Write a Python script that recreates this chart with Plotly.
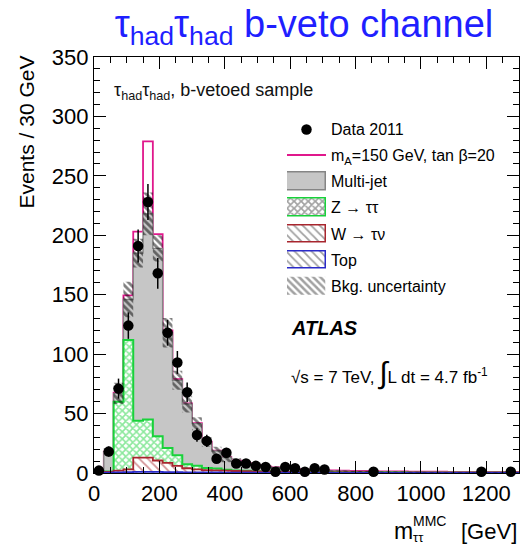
import numpy as np
import plotly.graph_objects as go

# ---------------- data ----------------
bin_width = 30
bin_edges = np.arange(0, 1320 + 1, bin_width)          # 44 bins, 0..1320 GeV

data_2011 = [2, 18, 71, 124, 191, 228, 168, 118, 93, 68, 32, 27, 12, 17, 8, 8, 6, 5,
             1, 5, 4, 1, 4, 3, 0, 0, 0, 0, 1, 0, 0, 0, 0, 0, 0, 0, 0, 0, 0, 1, 0, 0, 1, 0]

multijet = [0.6, 16.8, 7, 34, 141, 173, 158, 97, 63, 50.7, 35.5, 21.8, 14.8, 10.2, 7.8, 6.2,
            5.0, 4.2, 3.4, 2.8, 2.3, 1.9, 1.6, 1.4, 1.1, 1.0, 0.8, 0.8, 0.7, 0.6, 0.6, 0.5,
            0.4, 0.4, 0.4, 0.4, 0.3, 0.3, 0.3, 0.2, 0.3, 0.3, 0.2, 0.2]
z_tautau = [0.1, 0.2, 58, 109, 31, 32, 20.5, 12.5, 9, 3.3, 3, 1.7, 1.5, 0.8, 0.5, 0.3, 0.2, 0.2,
            0.1, 0.1, 0.1, 0.1, 0.1, 0.1, 0.1, 0.1, 0.1, 0.1, 0.1, 0.1, 0.1, 0.1, 0.1, 0.1,
            0.1, 0.1, 0.1, 0.1, 0.1, 0.1, 0.1, 0.1, 0.1, 0.1]
w_taunu = [0.2, 0.7, 1.4, 2.2, 12, 12, 9.6, 7.7, 5.3, 3.4, 2.5, 2.1, 1.8, 1.7, 1.4, 1.2, 1.1,
           0.9, 0.8, 0.7, 0.6, 0.5, 0.5, 0.4, 0.4, 0.3, 0.3, 0.3, 0.2, 0.2, 0.2, 0.2,
           0.1, 0.1, 0.1, 0.1, 0.1, 0.1, 0.1, 0.1, 0.1, 0.1, 0.1, 0.1]
top_quark = [0.1, 0.3, 0.6, 0.8, 1.0, 1.0, 0.9, 0.8, 0.7, 0.6, 0.5, 0.4, 0.4, 0.3, 0.3, 0.3,
             0.2, 0.2, 0.2, 0.2, 0.1, 0.1, 0.1, 0.1, 0.1, 0.1, 0.1, 0.1, 0.1, 0.1, 0.1, 0.1,
             0.1, 0.1, 0.1, 0.1, 0.1, 0.1, 0.1, 0.1, 0.1, 0.1, 0.1, 0.1]
signal_mA150 = [0, 0, 0.5, 3.5, 18, 61, 12, 2, 1, 0.5, 0.4, 0.3, 0.3, 0.3, 0.3, 0.3, 0.3, 0.3,
                0.3, 0.3, 0.3, 0.3, 0.3, 0.3, 0.4, 0.4, 0.4, 0.4, 0.4, 0.4, 0.4, 0.4, 0.4,
                0.4, 0.4, 0.4, 0.4, 0.4, 0.4, 0.4, 0.4, 0.4, 0.4, 0.4]
bkg_uncertainty = [0.5, 3, 9, 15, 12, 18, 11, 12.5, 8, 7, 5.5, 4, 3.5, 4, 2.5, 2, 1.8, 1.5,
                   1.2, 1.0, 0.9, 0.8, 0.7, 0.6, 0.5, 0.5, 0.4, 0.4, 0.4, 0.3, 0.3, 0.3, 0.3,
                   0.3, 0.2, 0.2, 0.2, 0.2, 0.2, 0.2, 0.2, 0.2, 0.2, 0.2]

x_ticks = [0, 200, 400, 600, 800, 1000, 1200]
y_ticks = [0, 50, 100, 150, 200, 250, 300, 350]

legend_labels = ["Data 2011", "m<sub>A</sub>=150 GeV, tan β=20", "Multi-jet",
                 "Z → ττ", "W → τν", "Top", "Bkg. uncertainty"]

# ---------------- styling ----------------
FONT = "Liberation Sans, Arial, sans-serif"
GRAY_FILL, GRAY_LINE = "#c6c6c6", "#858585"
GREEN, RED, BLUE, PINK = "#18d23a", "#a8262e", "#2a2ac8", "#e0188c"

# ---------------- stacking ----------------
top_a = np.array(top_quark)
w_a = top_a + np.array(w_taunu)
z_a = w_a + np.array(z_tautau)
tot_a = z_a + np.array(multijet)
sig_a = tot_a + np.array(signal_mA150)
unc_a = np.array(bkg_uncertainty)
data_a = np.array(data_2011, dtype=float)
centers = bin_edges[:-1] + bin_width / 2


def step(v):
    return np.append(v, v[-1])


fig = go.Figure()

# signal + background line (drawn first: only visible where it rises above the stack)
fig.add_trace(go.Scatter(x=bin_edges, y=step(sig_a), mode="lines", line_shape="hv",
                         line=dict(color=PINK, width=1.8), showlegend=False, hoverinfo="skip"))


def hist_fill(vals, line_color, lw, fillcolor, pattern=None):
    kw = dict(x=bin_edges, y=step(vals), mode="lines", line_shape="hv",
              line=dict(color=line_color, width=lw), fill="tozeroy",
              fillcolor=fillcolor, showlegend=False, hoverinfo="skip")
    if pattern:
        kw["fillpattern"] = pattern
    fig.add_trace(go.Scatter(**kw))


hist_fill(tot_a, GRAY_LINE, 1.4, GRAY_FILL)
hist_fill(z_a, GREEN, 2, "white",
          dict(shape="x", fgcolor=GREEN, bgcolor="white", size=5, solidity=0.55))
hist_fill(w_a, RED, 1.8, "white",
          dict(shape="\\", fgcolor=RED, bgcolor="white", size=6, solidity=0.3))
hist_fill(top_a, BLUE, 1.8, "white",
          dict(shape="\\", fgcolor=BLUE, bgcolor="white", size=6, solidity=0.3))

# uncertainty band
fig.add_trace(go.Scatter(x=bin_edges, y=step(tot_a - unc_a), mode="lines", line_shape="hv",
                         line=dict(width=0, color="rgba(0,0,0,0)"), showlegend=False,
                         hoverinfo="skip"))
fig.add_trace(go.Scatter(x=bin_edges, y=step(tot_a + unc_a), mode="lines", line_shape="hv",
                         line=dict(width=0, color="rgba(0,0,0,0)"), fill="tonexty",
                         fillcolor="rgba(0,0,0,0)",
                         fillpattern=dict(shape="\\", fgcolor="#000000",
                                          bgcolor="rgba(0,0,0,0)", size=5, solidity=0.55),
                         showlegend=False, hoverinfo="skip"))

# data
mask = data_a > 0
fig.add_trace(go.Scatter(x=centers[mask], y=data_a[mask], mode="markers",
                         marker=dict(color="black", size=10.5),
                         error_y=dict(type="data", array=np.sqrt(data_a[mask]),
                                      color="black", thickness=1.5, width=0),
                         showlegend=False, cliponaxis=False))

# ---------------- legend (inset axes) ----------------
rows = list(range(len(legend_labels)))
fig.add_trace(go.Scatter(x=[0.5], y=[rows[0]], mode="markers", xaxis="x2", yaxis="y2",
                         marker=dict(color="black", size=10.5), showlegend=False))
fig.add_trace(go.Bar(x=[1], y=[rows[1]], orientation="h", width=0.07, xaxis="x2",
                     yaxis="y2", marker=dict(color=PINK, line=dict(width=0)),
                     showlegend=False))
fig.add_trace(go.Bar(
    x=[1, 1, 1, 1, 1], y=rows[2:], orientation="h", width=0.68, xaxis="x2", yaxis="y2",
    marker=dict(
        color=[GRAY_FILL, "white", "white", "white", "rgba(0,0,0,0)"],
        line=dict(color=[GRAY_LINE, GREEN, RED, BLUE, "rgba(0,0,0,0)"], width=1.5),
        pattern=dict(shape=["", "x", "\\", "\\", "\\"],
                     fgcolor=[GRAY_FILL, GREEN, RED, BLUE, "#000000"],
                     bgcolor=[GRAY_FILL, "white", "white", "white", "rgba(0,0,0,0)"],
                     size=[6, 5, 6, 6, 5], solidity=[0.3, 0.55, 0.3, 0.3, 0.5])),
    showlegend=False))

# ---------------- layout ----------------
W, H = 529, 545
ml, mr, mt, mb = 94, 10, 57, 72
pw, ph = W - ml - mr, H - mt - mb


def px_x(px):
    return (px - ml) / pw


def px_y(py):
    return (H - mb - py) / ph


axis_common = dict(showgrid=False, zeroline=False, showline=True, linecolor="black",
                   linewidth=1.2, ticks="inside", ticklen=12, tickwidth=1, tickcolor="black",
                   mirror="ticks", tickfont=dict(family=FONT, size=22, color="black"))

row_top, row_step = 129.5, 26.1
fig.update_layout(
    width=W, height=H, margin=dict(l=ml, r=mr, t=mt, b=mb),
    paper_bgcolor="white", plot_bgcolor="white",
    font=dict(family=FONT, color="black"),
    showlegend=False,
    title=dict(text="τ<sub>had</sub>τ<sub>had</sub> b-veto channel",
               font=dict(family=FONT, size=38, color="#1f1fff"),
               x=304 / W, xanchor="center", xref="container",
               y=1 - 24 / H, yanchor="middle", yref="container"),
    xaxis=dict(range=[0, 1300], tickvals=x_ticks,
               minor=dict(ticks="inside", dtick=50, ticklen=6, tickcolor="black"),
               **axis_common),
    yaxis=dict(range=[0, 350], tickvals=y_ticks,
               minor=dict(ticks="inside", dtick=10, ticklen=6, tickcolor="black"),
               **axis_common),
    xaxis2=dict(domain=[px_x(287), px_x(326)], range=[0, 1], visible=False,
                anchor="y2", fixedrange=True),
    yaxis2=dict(domain=[px_y(row_top + row_step * (len(rows) - 0.5)),
                        px_y(row_top - row_step * 0.5)],
                range=[len(rows) - 0.5, -0.5], anchor="x2", side="right",
                tickvals=rows, ticktext=legend_labels, ticks="", showline=False,
                showgrid=False, zeroline=False, ticklabelstandoff=4,
                tickfont=dict(family=FONT, size=16, color="black"), fixedrange=True),
    bargap=0,
)

ann = [
    dict(text="τ<sub>had</sub>τ<sub>had</sub>, b-vetoed sample", x=px_x(112), y=px_y(91),
         xanchor="left", yanchor="middle", font=dict(size=18, color="#111")),
    dict(text="<b><i>ATLAS</i></b>", x=px_x(289), y=px_y(328), xanchor="left",
         yanchor="middle", font=dict(size=20, color="black")),
    dict(text="√s = 7 TeV, <span style='font-size:30px'>∫</span>L dt = 4.7 fb<sup>-1</sup>",
         x=px_x(289), y=px_y(373), xanchor="left", yanchor="middle",
         font=dict(size=17, color="black")),
    dict(text="Events / 30 GeV", textangle=-90, x=px_x(26), y=px_y(54), xanchor="center",
         yanchor="top", font=dict(size=21, color="black")),
    dict(text="m", x=px_x(392), y=px_y(531), xanchor="left", yanchor="middle",
         font=dict(size=23, color="black")),
    dict(text="MMC", x=px_x(411), y=px_y(521), xanchor="left", yanchor="middle",
         font=dict(size=14, color="black")),
    dict(text="ττ", x=px_x(411), y=px_y(537), xanchor="left", yanchor="middle",
         font=dict(size=13, color="black")),
    dict(text="[GeV]", x=px_x(519), y=px_y(531), xanchor="right", yanchor="middle",
         font=dict(size=22, color="black")),
]
for a in ann:
    a.update(xref="paper", yref="paper", showarrow=False)
    a["font"]["family"] = FONT
fig.update_layout(annotations=ann)

fig.write_html("out.html")
